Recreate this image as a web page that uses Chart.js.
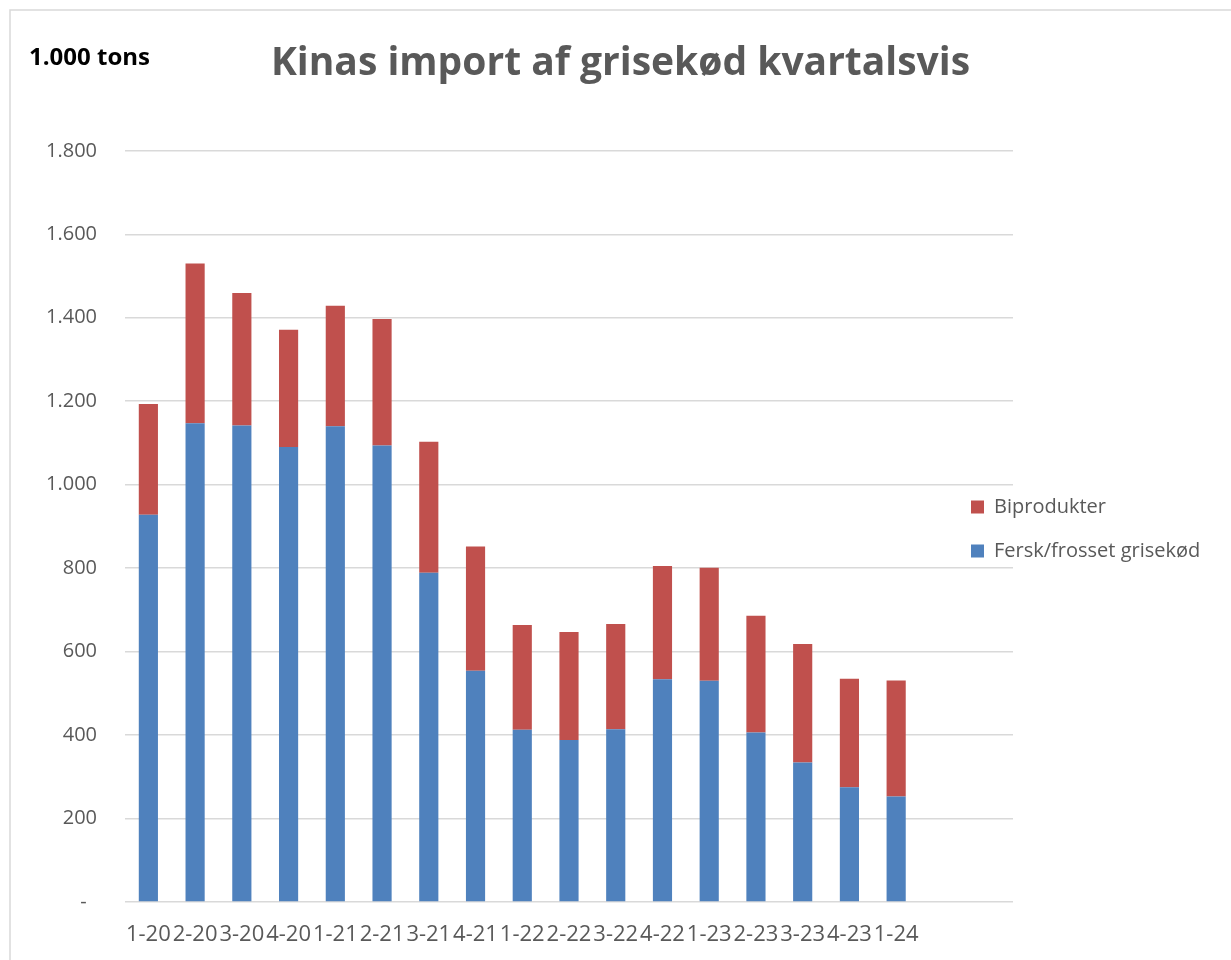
<!DOCTYPE html>
<html>
<head>
<meta charset="utf-8">
<script src="https://cdn.jsdelivr.net/npm/chart.js@4.4.1/dist/chart.umd.min.js"></script>
<style>
html,body{margin:0;padding:0;background:#fff;}
#c{display:block;background:#fff;}
</style>
</head>
<body>
<canvas id="c" width="1231" height="960"></canvas>
<script>
// ---- data ----
const categories = ['1-20','2-20','3-20','4-20','1-21','2-21','3-21','4-21','1-22','2-22','3-22','4-22','1-23','2-23','3-23','4-23','1-24','',''];
const freshFrozen = [928,1147,1142,1090,1140,1094,789,554,413,388,414,534,530,406,334,275,253];
const byproducts  = [265,383,317,281,289,303,314,298,251,259,252,271,271,280,284,260,278];
const seriesNames = ['Fersk/frosset grisekød','Biprodukter'];
const yMin = 0, yMax = 1800, yStep = 200;
const titleText = 'Kinas import af grisekød kvartalsvis';
const unitText = '1.000 tons';

function fmtThousands(v){
  if (v === 0) return '-  ';
  const s = String(Math.round(v));
  return s.replace(/\B(?=(\d{3})+(?!\d))/g, '.');
}

const GREY = '#595959';
const GRID = '#d9d9d9';

const decor = {
  id: 'decor',
  afterLayout(chart){
    const t = chart.titleBlock;
    if (t){ t.left = 10; t.right = chart.width; t.width = t.right - t.left; }
    const lg = chart.legend;
    if (lg){
      lg.left = 947; lg.right = chart.width; lg.width = lg.right - lg.left;
      lg.top = 151; lg.bottom = 907; lg.height = lg.bottom - lg.top;
    }
  },
  beforeDraw(chart){
    const ctx = chart.ctx;
    ctx.save();
    ctx.fillStyle = '#fff';
    ctx.fillRect(0,0,chart.width,chart.height);
    ctx.strokeStyle = GRID;
    ctx.lineWidth = 1.5;
    ctx.beginPath();
    ctx.moveTo(10, chart.height);
    ctx.lineTo(10, 10);
    ctx.lineTo(chart.width, 10);
    ctx.stroke();
    ctx.restore();
  },
  afterDraw(chart){
    const ctx = chart.ctx;
    ctx.save();
    ctx.fillStyle = '#000';
    ctx.font = 'bold 24px "Open Sans"';
    ctx.textAlign = 'left';
    ctx.textBaseline = 'middle';
    ctx.fillText(unitText, 29, 58);
    ctx.restore();
  }
};

new Chart(document.getElementById('c'), {
  type: 'bar',
  data: {
    labels: categories,
    datasets: [
      { label: seriesNames[0], data: freshFrozen, backgroundColor: '#4f81bd', borderWidth: 0 },
      { label: seriesNames[1], data: byproducts,  backgroundColor: '#c0504d', borderWidth: 0 }
    ]
  },
  options: {
    responsive: false,
    animation: false,
    devicePixelRatio: 1,
    layout: { padding: { left: 10, right: 218, top: 0, bottom: 0 } },
    datasets: { bar: { categoryPercentage: 1, barPercentage: 0.41 } },
    plugins: {
      title: {
        display: true,
        text: titleText,
        color: GREY,
        font: { family: 'Open Sans', size: 39, weight: 'bold' },
        padding: { top: 40, bottom: 64 }
      },
      legend: {
        display: true,
        position: 'chartArea',
        align: 'center',
        reverse: true,
        labels: {
          boxWidth: 13, boxHeight: 13, padding: 24,
          color: GREY,
          font: { family: 'Open Sans', size: 20 }
        }
      },
      tooltip: { enabled: false }
    },
    scales: {
      x: {
        stacked: true,
        grid: { display: false },
        border: { display: false },
        ticks: {
          autoSkip: false, maxRotation: 0, minRotation: 0,
          color: GREY, padding: 12,
          font: { family: 'Open Sans', size: 22 }
        },
        afterFit(s){ s.height = 58; }
      },
      y: {
        stacked: true,
        min: yMin, max: yMax,
        grid: { color: GRID, lineWidth: 1.5, drawTicks: false },
        border: { display: false },
        ticks: {
          stepSize: yStep, color: GREY, padding: 28,
          font: { family: 'Open Sans', size: 20 },
          callback: (v) => fmtThousands(v)
        },
        afterFit(s){ s.width = 115; }
      }
    }
  },
  plugins: [decor]
});
</script>
</body>
</html>
